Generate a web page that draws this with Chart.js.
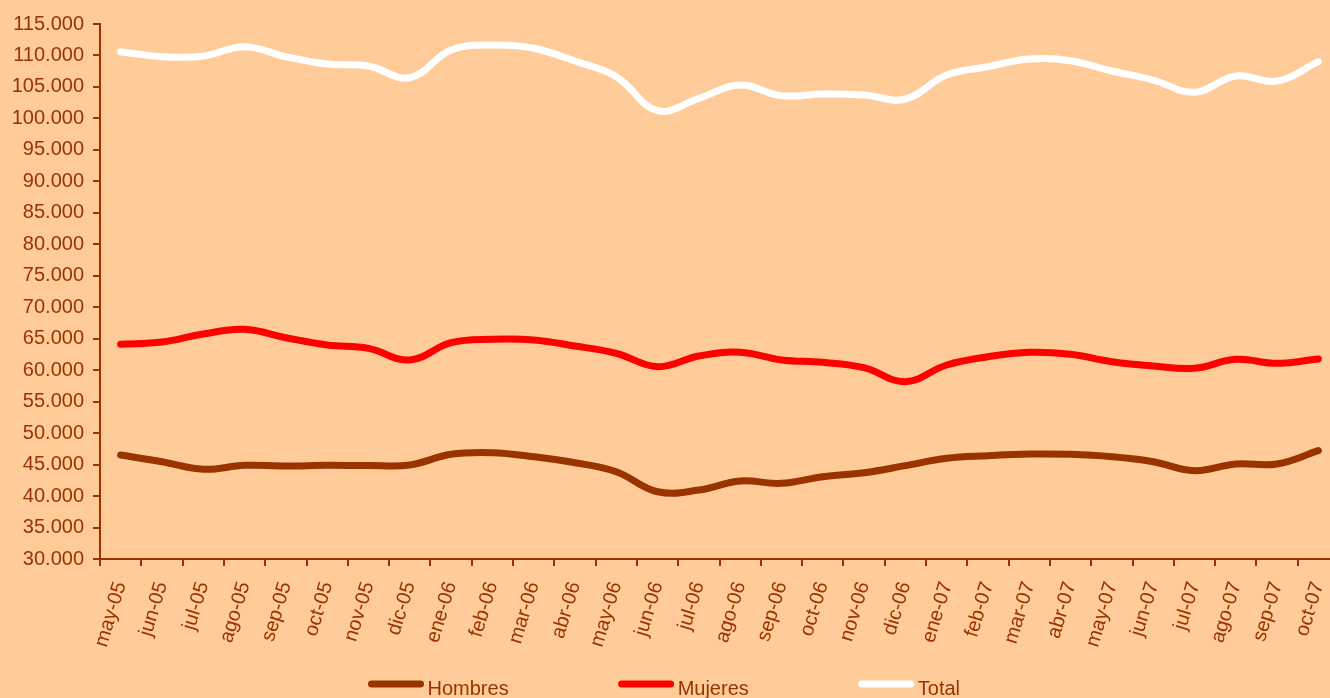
<!DOCTYPE html>
<html>
<head>
<meta charset="utf-8">
<script src="https://cdn.jsdelivr.net/npm/chart.js@4.4.0/dist/chart.umd.min.js"></script>
<style>
  html, body { margin: 0; padding: 0; background: #FFCC99; overflow: hidden; }
  #wrap { width: 1330px; height: 698px; overflow: hidden; position: relative; }
  canvas { display: block; }
</style>
</head>
<body>
<div id="wrap">
  <canvas id="lineChart" width="1340" height="698"></canvas>
</div>
<script>
const months = ["may-05", "jun-05", "jul-05", "ago-05", "sep-05", "oct-05", "nov-05", "dic-05",
  "ene-06", "feb-06", "mar-06", "abr-06", "may-06", "jun-06", "jul-06", "ago-06", "sep-06", "oct-06",
  "nov-06", "dic-06", "ene-07", "feb-07", "mar-07", "abr-07", "may-07", "jun-07", "jul-07", "ago-07",
  "sep-07", "oct-07"];

const hombres = [46520, 45460, 44250, 44890, 44780, 44890, 44850, 44940, 46630, 46890, 46250, 45300,
  43870, 40690, 40960, 42390, 42020, 43080, 43710, 44830, 46000, 46410, 46680, 46630, 46250, 45460,
  44030, 45090, 45090, 47210];

const mujeres = [64110, 64480, 65750, 66490, 65160, 64000, 63470, 61620, 64370, 64900, 64790, 63840,
  62680, 60560, 62250, 62840, 61620, 61250, 60400, 58170, 60820, 62140, 62840, 62520, 61350, 60660,
  60300, 61720, 61090, 61780];

const total = [110600, 109800, 109900, 111400, 109800, 108640, 108330, 106470, 110870, 111660, 111140,
  109120, 106630, 101230, 103190, 105310, 103610, 103880, 103720, 103080, 106900, 108220, 109440,
  109170, 107530, 106100, 104150, 106740, 105940, 109010];

const axisColor = "#993300";
const fontFamily = "Arial, 'Liberation Sans', sans-serif";
const font = { family: fontFamily, size: 20 };

function miles(v) {
  return String(v).replace(/\B(?=(\d{3})+(?!\d))/g, ".");
}

function serie(label, values, color) {
  return {
    label: label,
    data: values,
    borderColor: color,
    backgroundColor: color,
    borderWidth: 7,
    borderCapStyle: "round",
    borderJoinStyle: "round",
    pointRadius: 0,
    pointHoverRadius: 0,
    tension: 0.4,
    fill: false,
  };
}

// legend drawn as line samples under the axis labels
const lineLegend = {
  id: "lineLegend",
  afterDraw(chart) {
    const c = chart.ctx;
    c.save();
    c.font = "20px " + fontFamily;
    c.textBaseline = "alphabetic";
    c.textAlign = "left";
    let x = 368;
    chart.data.datasets.forEach((ds) => {
      c.strokeStyle = ds.borderColor;
      c.lineWidth = 7;
      c.lineCap = "round";
      c.beginPath();
      c.moveTo(x + 3.5, 684);
      c.lineTo(x + 52.5, 684);
      c.stroke();
      c.fillStyle = axisColor;
      c.fillText(ds.label, x + 59.5, 695);
      x += 59.5 + c.measureText(ds.label).width + 109.5;
    });
    c.restore();
  },
};

var ctx = document.getElementById("lineChart").getContext("2d");
var chart = new Chart(ctx, {
  type: "line",
  data: {
    labels: months,
    datasets: [
      serie("Hombres", hombres, "#993300"),
      serie("Mujeres", mujeres, "#FF0000"),
      serie("Total", total, "#FFFFFF"),
    ],
  },
  plugins: [lineLegend],
  options: {
    responsive: false,
    animation: false,
    layout: { padding: { top: 24, left: 0, right: 1, bottom: 39 } },
    plugins: {
      tooltip: { enabled: false },
      legend: { display: false },
    },
    scales: {
      x: {
        offset: true,
        grid: {
          offset: true,
          drawOnChartArea: false,
          drawTicks: true,
          tickLength: 7,
          color: axisColor,
          lineWidth: 2,
        },
        border: { color: axisColor, width: 2 },
        ticks: {
          autoSkip: false,
          minRotation: 73,
          maxRotation: 73,
          padding: 13,
          color: axisColor,
          font: font,
        },
        afterFit: (s) => {
          s.height = 100;
          s.paddingLeft = 0;
          s.paddingRight = 0;
        },
      },
      y: {
        min: 30000,
        max: 115000,
        grid: {
          drawOnChartArea: false,
          drawTicks: true,
          tickLength: 7,
          color: axisColor,
          lineWidth: 2,
        },
        border: { color: axisColor, width: 2 },
        ticks: {
          stepSize: 5000,
          padding: 9,
          color: axisColor,
          font: font,
          callback: (v) => miles(v),
        },
        afterFit: (s) => { s.width = 100; },
      },
    },
  },
});
</script>
</body>
</html>
